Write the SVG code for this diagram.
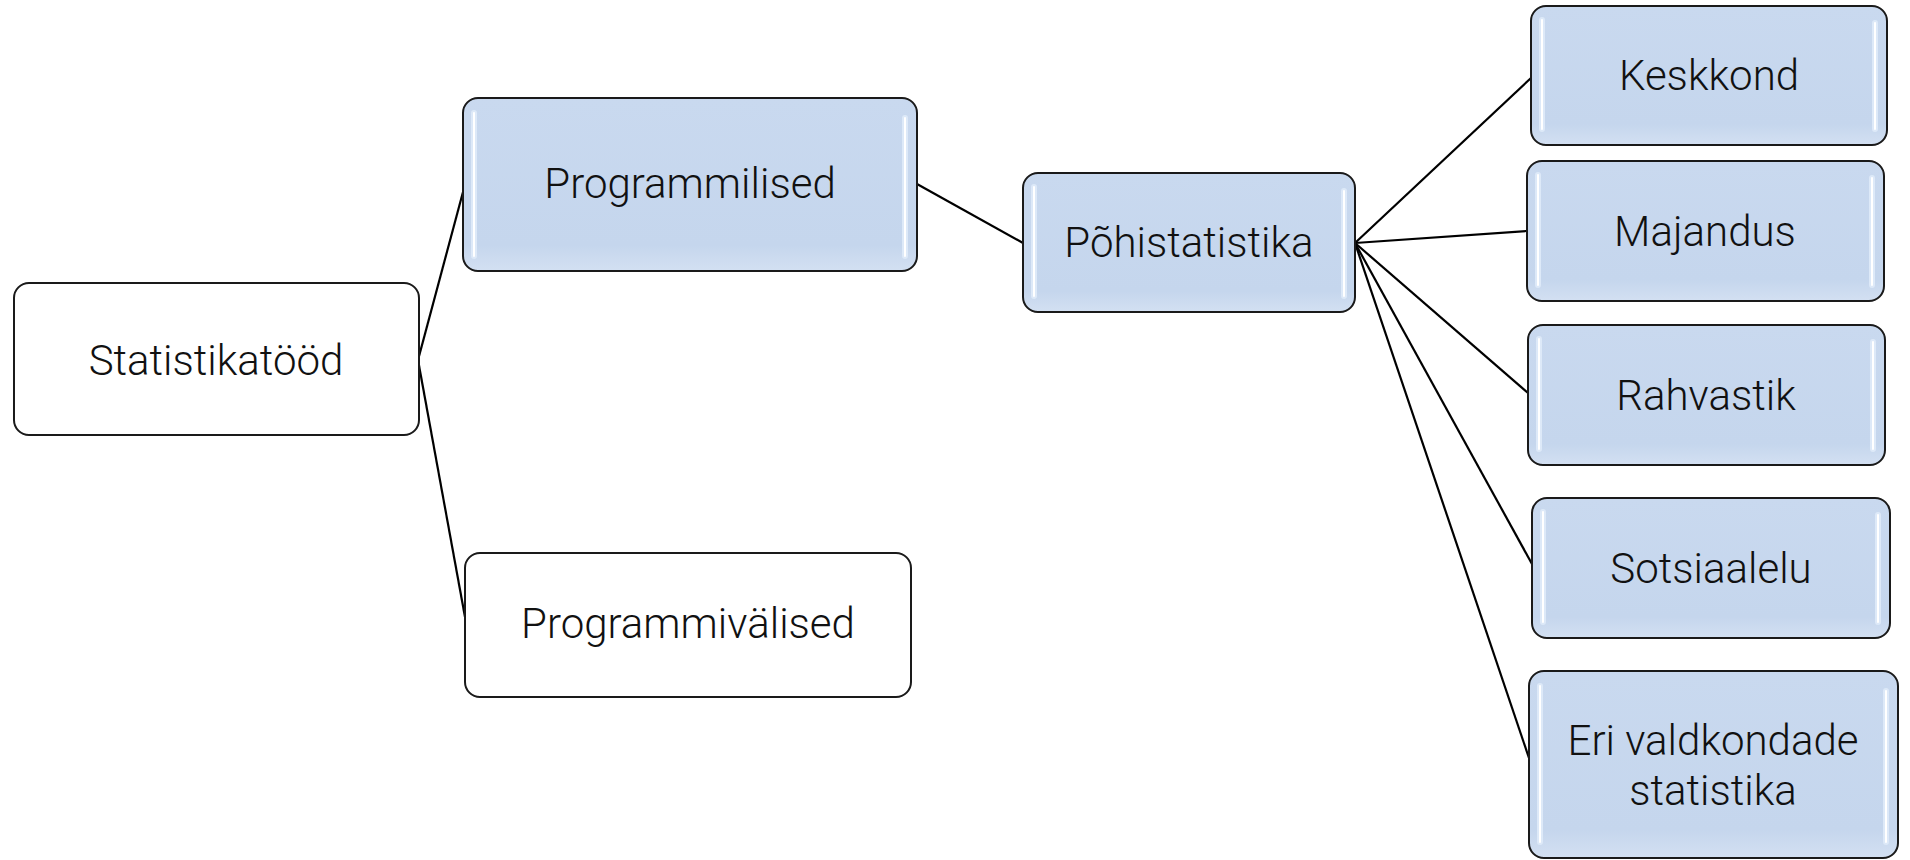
<svg xmlns="http://www.w3.org/2000/svg" width="1910" height="860" viewBox="0 0 1910 860">
<defs>
<style>
.box{stroke:#1a1a1a;stroke-width:2}
.white{fill:#ffffff}
.blue{fill:url(#bg)}
.hl{fill:#ffffff;stroke:#dde9f8;stroke-width:2}
.lbl{font-family:"Roboto Light",Roboto,"Liberation Sans",sans-serif;font-weight:300;font-size:42px;fill:#111;text-anchor:middle}
.edge{stroke:#000;stroke-width:2.2;fill:none}
</style>
<linearGradient id="bg" x1="0" y1="0" x2="0" y2="1">
<stop offset="0" stop-color="#c9d9ef"/>
<stop offset="0.85" stop-color="#c5d6ed"/>
<stop offset="1" stop-color="#d3e0f2"/>
</linearGradient>
</defs>
<rect width="1910" height="860" fill="#ffffff"/>
<g id="connectors">
<line class="edge" x1="418" y1="360" x2="463" y2="192"/>
<line class="edge" x1="418" y1="360" x2="465" y2="617"/>
<line class="edge" x1="917" y1="184" x2="1023" y2="243"/>
<line class="edge" x1="1355" y1="243" x2="1531" y2="78"/>
<line class="edge" x1="1355" y1="243" x2="1527" y2="231"/>
<line class="edge" x1="1355" y1="243" x2="1528" y2="393"/>
<line class="edge" x1="1355" y1="243" x2="1532" y2="564"/>
<line class="edge" x1="1355" y1="243" x2="1529" y2="758"/>
</g>
<g id="node-statistikatood">
<rect class="box white" x="14" y="283" width="405" height="152" rx="15"/>
<text class="lbl" x="216" y="375">Statistikatööd</text>
</g>
<g id="node-programmilised">
<rect class="box blue" x="463" y="98" width="454" height="173" rx="15"/>
<rect class="hl" x="472" y="111" width="4" height="147" rx="2"/>
<rect class="hl" x="903" y="116" width="4" height="142" rx="2"/>
<text class="lbl" x="690" y="198">Programmilised</text>
</g>
<g id="node-programmivalised">
<rect class="box white" x="465" y="553" width="446" height="144" rx="15"/>
<text class="lbl" x="688" y="638">Programmivälised</text>
</g>
<g id="node-pohistatistika">
<rect class="box blue" x="1023" y="173" width="332" height="139" rx="15"/>
<rect class="hl" x="1032" y="185" width="4" height="113" rx="2"/>
<rect class="hl" x="1342" y="189" width="4" height="109" rx="2"/>
<text class="lbl" x="1189" y="257">Põhistatistika</text>
</g>
<g id="node-keskkond">
<rect class="box blue" x="1531" y="6" width="356" height="139" rx="15"/>
<rect class="hl" x="1540" y="18" width="4" height="113" rx="2"/>
<rect class="hl" x="1873" y="21" width="4" height="110" rx="2"/>
<text class="lbl" x="1709" y="90">Keskkond</text>
</g>
<g id="node-majandus">
<rect class="box blue" x="1527" y="161" width="357" height="140" rx="15"/>
<rect class="hl" x="1536" y="173" width="4" height="114" rx="2"/>
<rect class="hl" x="1870" y="176" width="4" height="111" rx="2"/>
<text class="lbl" x="1705" y="246">Majandus</text>
</g>
<g id="node-rahvastik">
<rect class="box blue" x="1528" y="325" width="357" height="140" rx="15"/>
<rect class="hl" x="1537" y="337" width="4" height="114" rx="2"/>
<rect class="hl" x="1871" y="340" width="4" height="111" rx="2"/>
<text class="lbl" x="1706" y="410">Rahvastik</text>
</g>
<g id="node-sotsiaalelu">
<rect class="box blue" x="1532" y="498" width="358" height="140" rx="15"/>
<rect class="hl" x="1541" y="510" width="4" height="114" rx="2"/>
<rect class="hl" x="1876" y="513" width="4" height="111" rx="2"/>
<text class="lbl" x="1711" y="583">Sotsiaalelu</text>
</g>
<g id="node-eri">
<rect class="box blue" x="1529" y="671" width="369" height="187" rx="15"/>
<rect class="hl" x="1538" y="684" width="4" height="160" rx="2"/>
<rect class="hl" x="1884" y="689" width="4" height="155" rx="2"/>
<text class="lbl" x="1713" y="755">Eri valdkondade</text>
<text class="lbl" x="1713" y="805">statistika</text>
</g>
</svg>
